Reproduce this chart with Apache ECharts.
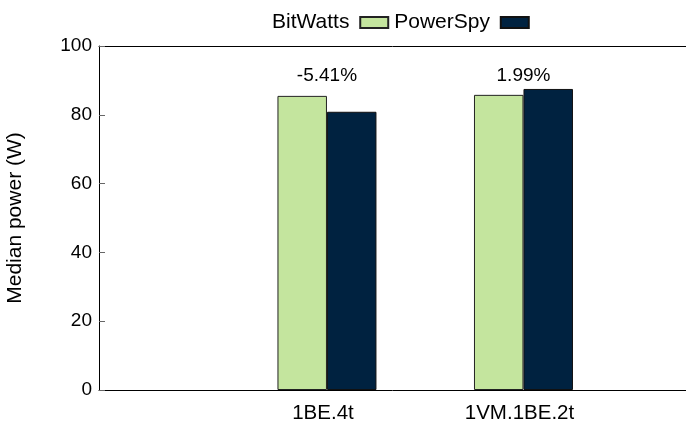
<!DOCTYPE html>
<html>
<head>
<meta charset="utf-8">
<script src="https://cdn.jsdelivr.net/npm/echarts@6/dist/echarts.min.js"></script>
<style>
  html, body { margin: 0; padding: 0; background: #fff; }
  #chart { width: 686px; height: 428px; }
</style>
</head>
<body>
<div id="chart"></div>
<script>
// Median power per configuration, as measured by each tool
const categories = ['1BE.4t', '1VM.1BE.2t'];
const bitwatts = [85.5, 85.8];
const powerspy = [80.88, 87.51];
const diffLabels = ['-5.41%', '1.99%'];
const yTicks = [0, 20, 40, 60, 80, 100];

const FONT = 'Liberation Sans, Arial, Helvetica, sans-serif';
const LABEL_Y = 91.3;

const chart = echarts.init(document.getElementById('chart'), null, { renderer: 'canvas' });

const xyPairs = (vals) => vals.map((v, i) => [i, v]);

chart.setOption({
  animation: false,
  backgroundColor: '#ffffff',
  textStyle: { fontFamily: FONT },
  legend: {
    left: 267,
    top: 7,
    align: 'right',
    icon: 'rect',
    itemWidth: 28,
    itemHeight: 11,
    itemGap: 5,
    formatter: (name) => name + ' ',
    textStyle: { fontFamily: FONT, fontSize: 21, color: '#000' },
    data: ['BitWatts', 'PowerSpy']
  },
  grid: { left: 99, right: 0, top: 46, bottom: 38, containLabel: false, outerBoundsMode: 'none' },
  xAxis: [
    {
      type: 'value',
      min: -1.16,
      max: 1.827,
      axisLine: { show: true, onZero: false, lineStyle: { color: '#000', width: 1 } },
      axisTick: { show: false },
      splitLine: { show: false },
      axisLabel: {
        show: true,
        showMinLabel: false,
        showMaxLabel: false,
        fontFamily: FONT,
        fontSize: 20.5,
        color: '#000',
        margin: 13,
        padding: [0, 8, 0, 0],
        formatter: (v) => (Number.isInteger(v) && v >= 0 && v < categories.length) ? categories[v] : ''
      }
    },
    {
      type: 'value',
      position: 'top',
      min: -1.16,
      max: 1.827,
      axisLine: { show: true, onZero: false, lineStyle: { color: '#000', width: 1 } },
      axisTick: { show: false },
      axisLabel: { show: false },
      splitLine: { show: false }
    }
  ],
  yAxis: {
    type: 'value',
    min: yTicks[0],
    max: yTicks[yTicks.length - 1],
    interval: 20,
    name: 'Median power (W)',
    nameLocation: 'middle',
    nameGap: 73,
    nameTextStyle: { fontFamily: FONT, fontSize: 21, color: '#000' },
    axisLine: { show: true, onZero: false, lineStyle: { color: '#000', width: 1 } },
    axisTick: { show: true, inside: true, length: 6, lineStyle: { color: '#666' } },
    splitLine: { show: false },
    axisLabel: { fontFamily: FONT, fontSize: 19, color: '#000', margin: 7 }
  },
  series: [
    {
      name: 'BitWatts',
      type: 'bar',
      xAxisIndex: 0,
      barWidth: 49.5,
      barGap: '0%',
      itemStyle: { color: '#c4e59e', borderColor: '#222', borderWidth: 1 },
      data: xyPairs(bitwatts)
    },
    {
      name: 'PowerSpy',
      type: 'bar',
      xAxisIndex: 0,
      barWidth: 49.5,
      barGap: '0%',
      itemStyle: { color: '#002240', borderColor: '#111', borderWidth: 1 },
      data: xyPairs(powerspy)
    },
    {
      // Relative difference printed above each pair of bars
      name: 'diff',
      type: 'scatter',
      xAxisIndex: 0,
      symbolSize: 0,
      silent: true,
      itemStyle: { opacity: 1 },
      label: {
        show: true,
        position: 'inside',
        fontFamily: FONT,
        fontSize: 19,
        color: '#000',
        opacity: 1,
        formatter: (p) => diffLabels[p.dataIndex]
      },
      data: categories.map((c, i) => [i, LABEL_Y])
    }
  ]
});
</script>
</body>
</html>
